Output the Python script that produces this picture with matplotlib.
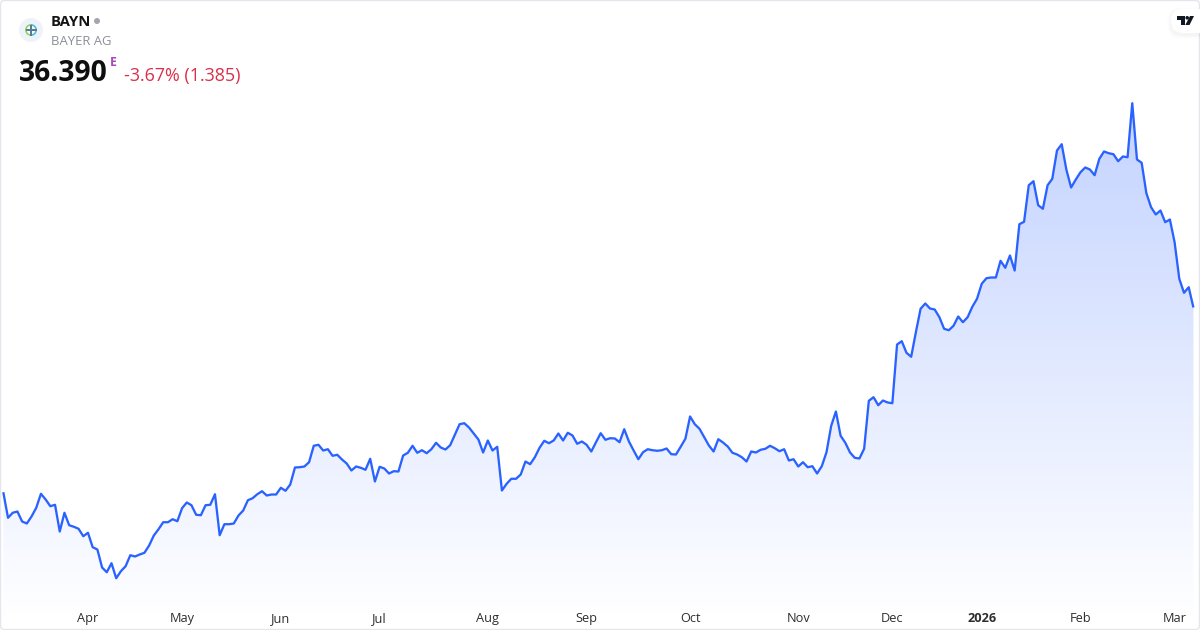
import numpy as np
import matplotlib
matplotlib.use("Agg")
import matplotlib.pyplot as plt
from matplotlib.patches import Circle, FancyBboxPatch, Polygon, Rectangle, Wedge
from matplotlib.colors import LinearSegmentedColormap

plt.rcParams['font.family'] = ['Open Sans', 'Noto Sans', 'DejaVu Sans']

ticker = "BAYN"
company = "BAYER AG"
last_price = "36.390"
session_flag = "E"
change_text = "-3.67% (1.385)"

prices = [
    23.46, 21.67, 22.02, 22.11, 21.41, 21.27, 21.76, 22.37, 23.35, 22.95,
    22.48, 22.58, 20.71, 22.02, 21.15, 21.04, 20.90, 20.38, 20.62, 19.61,
    19.45, 18.19, 17.86, 18.49, 17.44, 17.93, 18.28, 19.05, 18.96, 19.10,
    19.22, 19.73, 20.43, 20.87, 21.36, 21.36, 21.57, 21.43, 22.34, 22.74,
    22.55, 21.88, 21.85, 22.55, 22.58, 23.32, 20.45, 21.22, 21.22, 21.27,
    21.83, 22.18, 22.90, 23.04, 23.32, 23.53, 23.23, 23.30, 23.30, 23.77,
    23.56, 24.00, 25.19, 25.21, 25.26, 25.56, 26.71, 26.78, 26.38, 26.47,
    26.01, 26.08, 25.75, 25.47, 24.98, 25.26, 25.17, 25.03, 25.80, 24.21,
    25.24, 25.12, 24.77, 24.93, 24.91, 26.03, 26.22, 26.71, 26.22, 26.40,
    26.19, 26.47, 26.92, 26.59, 26.45, 26.75, 27.48, 28.22, 28.29, 27.99,
    27.57, 27.15, 26.24, 27.08, 26.38, 26.64, 23.58, 24.05, 24.40, 24.40,
    24.70, 25.61, 25.42, 25.91, 26.57, 27.06, 26.89, 27.08, 27.57, 27.08,
    27.62, 27.43, 26.85, 27.01, 26.78, 26.31, 26.96, 27.59, 27.13, 27.24,
    27.22, 26.96, 27.87, 27.01, 26.38, 25.77, 26.26, 26.47, 26.40, 26.36,
    26.40, 26.52, 26.12, 26.10, 26.64, 27.20, 28.76, 28.22, 27.90, 27.31,
    26.73, 26.31, 27.17, 26.94, 26.66, 26.22, 26.10, 25.91, 25.61, 26.31,
    26.24, 26.43, 26.50, 26.71, 26.54, 26.33, 26.47, 25.68, 25.77, 25.26,
    25.56, 25.21, 25.28, 24.77, 25.28, 26.26, 28.11, 29.11, 27.41, 26.92,
    26.24, 25.87, 25.82, 26.50, 29.86, 30.11, 29.55, 29.88, 29.74, 29.69,
    33.80, 34.03, 33.22, 32.94, 34.66, 36.30, 36.67, 36.32, 36.25, 35.71,
    34.90, 34.80, 35.11, 35.76, 35.36, 35.71, 36.44, 37.00, 38.05, 38.44,
    38.49, 38.49, 39.66, 39.17, 40.03, 38.98, 42.22, 42.39, 44.95, 45.23,
    43.55, 43.30, 44.95, 45.40, 47.38, 47.82, 46.03, 44.79, 45.35, 45.86,
    46.19, 46.05, 45.65, 46.80, 47.31, 47.19, 47.12, 46.63, 46.96, 46.91,
    50.69, 46.75, 46.52, 44.39, 43.41, 42.90, 43.18, 42.36, 42.55, 40.96,
    38.40, 37.42, 37.81, 36.39,
]
month_labels = ["Apr", "May", "Jun", "Jul", "Aug", "Sep", "Oct", "Nov", "Dec", "2026", "Feb", "Mar"]
month_index = [18, 38, 59, 80, 103, 124, 146, 169, 189, 208, 229, 249]

W, H = 1200, 630
fig = plt.figure(figsize=(W / 100, H / 100), dpi=100, facecolor="white")
ax = fig.add_axes([0, 0, 1, 1])
xs = np.arange(len(prices))
step = 4.704
x_lo, x_hi = -3.3 / step, (W - 3.3) / step
ymax = 57.88 + 0.035
ymin = ymax - 0.07 * H
ax.set_xlim(x_lo, x_hi)
ax.set_ylim(ymin, ymax)

LINE = "#2962FF"
cmap = LinearSegmentedColormap.from_list(
    "fade", [(0.161, 0.384, 1.0, 0.28), (0.161, 0.384, 1.0, 0.0)])
top_val = max(prices)
fade_bottom = ymax - 0.07 * 622
poly = ax.fill_between(xs, prices, ymin, color="none", lw=0)
grad = ax.imshow(np.linspace(0, 1, 256).reshape(-1, 1), cmap=cmap, aspect="auto",
                 extent=[xs[0], xs[-1], fade_bottom, top_val], origin="upper",
                 interpolation="bilinear", zorder=1)
grad.set_clip_path(poly.get_paths()[0], transform=ax.transData)
ax.set_xlim(x_lo, x_hi)
ax.set_ylim(ymin, ymax)
ax.plot(xs, prices, color=LINE, lw=1.65, solid_joinstyle="round", solid_capstyle="butt", zorder=3)

ax.set_xticks(month_index)
ax.set_xticklabels(month_labels, fontsize=9.2, color="#2e2e2e")
for lbl, txt in zip(ax.get_xticklabels(), month_labels):
    if txt == "2026":
        lbl.set_fontweight("bold")
ax.tick_params(axis="x", direction="in", length=0, pad=-13.2)
ax.set_yticks([])
for s in ax.spines.values():
    s.set_visible(False)

# Header and frame, in pixel coordinates
ov = fig.add_axes([0, 0, 1, 1], facecolor="none")
ov.set_xlim(0, W)
ov.set_ylim(H, 0)
ov.axis("off")

ov.add_patch(FancyBboxPatch((0.5, 0.5), W - 1, H - 1, boxstyle="round,pad=0,rounding_size=4",
                            fc="none", ec="#E4E6EB", lw=1.0, zorder=10))

# Company mark
ov.add_patch(Circle((31, 30), 12, fc="#EFF2F8", ec="none"))
ov.add_patch(Circle((31, 30), 6, fc="white", ec="none"))
ov.add_patch(Wedge((31, 30), 6, 90, 270, width=1.7, fc="#8BD46A", ec="none"))
ov.add_patch(Wedge((31, 30), 6, 270, 90, width=1.7, fc="#45BFE6", ec="none"))
ov.add_patch(Rectangle((25.5, 29.2), 11, 1.6, fc="#5B7C8F", ec="none"))
ov.add_patch(Rectangle((30.2, 24.5), 1.6, 11, fc="#5B7C8F", ec="none"))

ov.text(51, 26.3, ticker, fontsize=10.6, fontweight="bold", color="#131313", va="baseline")
ov.add_patch(Circle((97, 21), 3, fc="#A3A6AF", ec="none"))
ov.text(51, 45.3, company, fontsize=9.45, color="#8C8F97", va="baseline")
ov.text(19, 81, last_price, fontsize=20.3, fontweight="bold", color="#0F0F0F", va="baseline")
ov.text(109.5, 66, session_flag, fontsize=8.8, fontweight="bold", color="#AB47BC", va="baseline")
ov.text(124, 81, change_text, fontsize=12.9, color="#D9304A", va="baseline")

# Corner badge
for i, a in enumerate([0.005, 0.008, 0.011, 0.014]):
    g = 4 - i
    ov.add_patch(FancyBboxPatch((1171 - g, 9 - g + 2), 50 + g, 24 + 2 * g,
                                boxstyle="round,pad=0,rounding_size=12",
                                fc="black", ec="none", alpha=a, zorder=11))
ov.add_patch(FancyBboxPatch((1171, 9), 50, 24, boxstyle="round,pad=0,rounding_size=12",
                            fc="white", ec="none", zorder=12))
ink = "#131722"
ov.add_patch(Polygon([(1177, 16), (1185, 16), (1185, 25), (1180.5, 25), (1180.5, 19.5), (1177, 19.5)],
                     fc=ink, ec="none", zorder=13))
ov.add_patch(Circle((1187.2, 17.8), 1.8, fc=ink, ec="none", zorder=13))
ov.add_patch(Polygon([(1190, 16), (1194, 16), (1189.5, 25), (1185.3, 25)], fc=ink, ec="none", zorder=13))
ov.set_xlim(0, W)
ov.set_ylim(H, 0)

fig.savefig("out.png", dpi=100, facecolor="white")
